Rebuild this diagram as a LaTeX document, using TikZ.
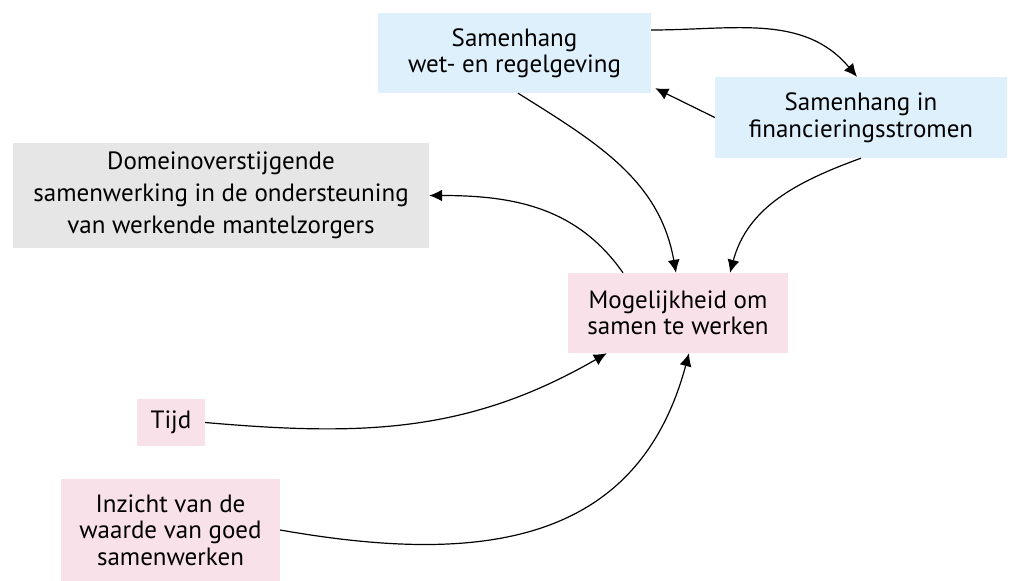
\documentclass[tikz,border=0pt]{standalone}
\usepackage{fontspec}
\setmainfont{PT Sans}
\usetikzlibrary{arrows.meta,calc}
\definecolor{boxblue}{RGB}{222,240,252}
\definecolor{boxpink}{RGB}{249,225,233}
\definecolor{boxgray}{RGB}{230,230,230}
\tikzset{
  box/.style={rectangle, inner sep=0pt, align=center, font=\fontsize{25}{26.5}\selectfont},
  bluebox/.style={box, fill=boxblue},
  pinkbox/.style={box, fill=boxpink},
  graybox/.style={box, fill=boxgray, font=\fontsize{25}{32}\selectfont},
  conn/.style={line width=1.2pt, -{Latex[length=13pt,width=12pt]}},
}
\begin{document}
\begin{tikzpicture}[x=1pt,y=1pt]
\useasboundingbox (0,0) rectangle (1010,-581);
\node[bluebox, minimum width=273pt, minimum height=80pt] (A) at (514.5,-53) {Samenhang\\wet- en regelgeving};
\node[bluebox, minimum width=292pt, minimum height=81pt] (B) at (861,-117.5) {Samenhang in\\financieringsstromen};
\node[graybox, minimum width=416pt, minimum height=105pt] (G) at (221,-195.5) {Domeinoverstijgende\\samenwerking in de ondersteuning\\van werkende mantelzorgers};
\node[pinkbox, minimum width=220pt, minimum height=80pt] (M) at (678,-313) {Mogelijkheid om\\samen te werken};
\node[pinkbox, minimum width=68pt, minimum height=47pt] (T) at (171,-422.5) {Tijd};
\node[pinkbox, minimum width=219pt, minimum height=102pt] (I) at (170.5,-530) {Inzicht van de\\waarde van goed\\samenwerken};

\draw[conn] ([yshift=23pt]A.east) to[out=0, in=130] ([xshift=-4pt]B.north);
\draw[conn] (B.west) -- ([shift={(4pt,5pt)}]A.south east);
\draw[conn] ([xshift=3.5pt]A.south) to[out=-32, in=100] ([xshift=-2pt]M.north);
\draw[conn] (B.south) to[out=200, in=75] ([xshift=52pt]M.north);
\draw[conn] ([xshift=-55pt]M.north) to[out=125, in=0] (G.east);
\draw[conn] (T.east) to[out=-5, in=210] ([xshift=39pt]M.south west);
\draw[conn] (I.east) to[out=-10, in=255, looseness=1.15] ([xshift=11pt]M.south);
\end{tikzpicture}
\end{document}
